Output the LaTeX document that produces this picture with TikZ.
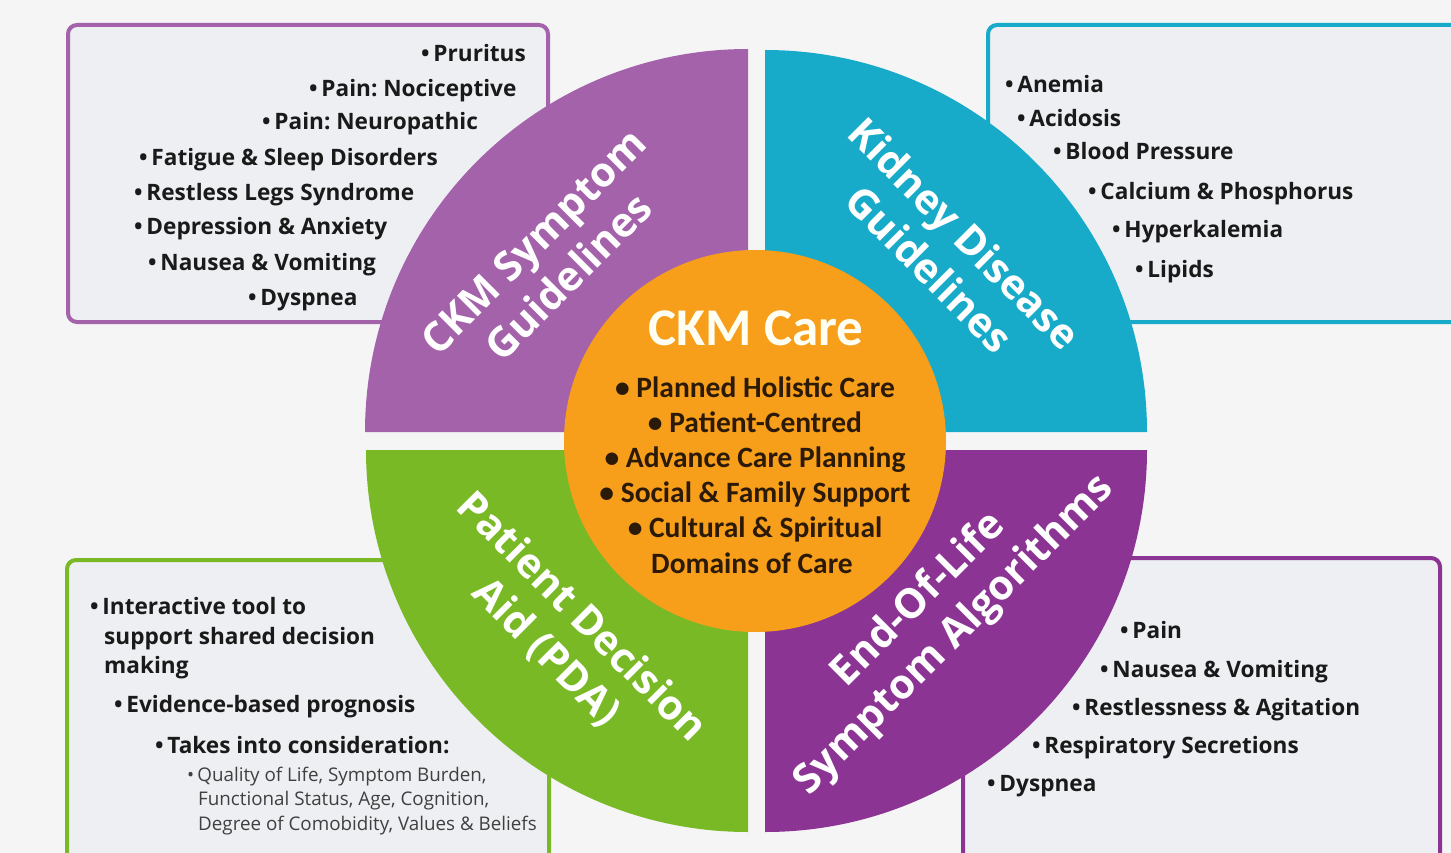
\documentclass[tikz,border=0pt]{standalone}
\usepackage{fontspec}
\setmainfont{Open Sans}
\newfontfamily\labelfont{Open Sans}
\newfontfamily\carfont{Carlito}
\frenchspacing
\definecolor{bgc}{HTML}{F5F5F5}
\definecolor{boxfill}{HTML}{EDEFF2}
\definecolor{lpurple}{HTML}{A462AA}
\definecolor{dpurple}{HTML}{8C3494}
\definecolor{cteal}{HTML}{17ABC9}
\definecolor{cgreen}{HTML}{79B925}
\definecolor{corange}{HTML}{F79E1B}
\definecolor{textc}{HTML}{1A1A1A}
\definecolor{centc}{HTML}{2B1A08}
\begin{document}
\begin{tikzpicture}[x=1pt,y=-1pt,
  infobox/.style={line width=4pt, rounded corners=9pt, fill=boxfill},
  item/.style={anchor=base west, inner sep=0pt, text=textc, font=\frenchspacing\fontsize{22.6}{26}\selectfont\bfseries},
  smallitem/.style={anchor=base west, inner sep=0pt, text=black!75, font=\frenchspacing\fontsize{18.8}{20}\selectfont},
  seclabel/.style={align=center, text=white, inner sep=0pt, font=\labelfont\fontsize{41}{50}\selectfont\bfseries},
  centitem/.style={anchor=base, inner sep=0pt, text=centc, font=\carfont\fontsize{29.5}{32}\selectfont\bfseries}]
\useasboundingbox (0,0) rectangle (1451,853);
\fill[bgc] (0,0) rectangle (1451,853);
% boxes
\draw[infobox, draw=lpurple] (68,25) rectangle (548,322);
\draw[infobox, draw=cteal] (988,25) rectangle (1480,322);
\draw[infobox, draw=cgreen] (67,560) rectangle (549,890);
\draw[infobox, draw=dpurple] (963,558) rectangle (1440,890);
% sectors
\fill[lpurple] (748,432) -- (365,432) arc[start angle=180,end angle=270,radius=383] -- cycle;
\fill[cteal] (765,432) -- (765,50) arc[start angle=270,end angle=360,radius=382] -- cycle;
\fill[cgreen] (748,450) -- (748,832) arc[start angle=90,end angle=180,radius=382] -- cycle;
\fill[dpurple] (765,450) -- (1147,450) arc[start angle=0,end angle=90,radius=382] -- cycle;
% centre
\fill[corange] (755,441) circle[radius=191];
% sector labels
\node[seclabel, rotate=45] (s1) at (551,259) {CKM Symptom\\Guidelines};
\node[seclabel, rotate=-45] (s2) at (947,251) {Kidney Disease\\Guidelines};
\node[seclabel, rotate=-45] (s3) at (564,635) {Patient Decision\\Aid (PDA)};
\node[seclabel, rotate=45] (s4) at (937,618) {End-Of-Life\\Symptom Algorithms};
% centre texts
\node[anchor=base, inner sep=0pt, text=white!95!yellow, font=\carfont\fontsize{53}{56}\selectfont\bfseries] (ct) at (756,345) {CKM Care};
\node[centitem] (c1) at (755,397) {• Planned Holistic Care};
\node[centitem] (c2) at (755,432) {• Patient-Centred};
\node[centitem] (c3) at (755,467) {• Advance Care Planning};
\node[centitem] (c4) at (755,502) {• Social \& Family Support};
\node[centitem] (c5) at (755,537) {• Cultural \& Spiritual};
\node[centitem] (c6) at (752,573) {Domains of Care};
% top-left items
\node[item] (a1) at (421,62) {•\,Pruritus};
\node[item] (a2) at (309,97) {•\,Pain: Nociceptive};
\node[item] (a3) at (262,130) {•\,Pain: Neuropathic};
\node[item] (a4) at (139,166) {•\,Fatigue \& Sleep Disorders};
\node[item] (a5) at (134,201) {•\,Restless Legs Syndrome};
\node[item] (a6) at (134,235) {•\,Depression \& Anxiety};
\node[item] (a7) at (148,270) {•\,Nausea \& Vomiting};
\node[item] (a8) at (248,305) {•\,Dyspnea};
% top-right items
\node[item] (b1) at (1005,93) {•\,Anemia};
\node[item] (b2) at (1017,127) {•\,Acidosis};
\node[item] (b3) at (1053,160) {•\,Blood Pressure};
\node[item] (b4) at (1088,200) {•\,Calcium \& Phosphorus};
\node[item] (b5) at (1112,237) {•\,Hyperkalemia};
\node[item] (b6) at (1135,277) {•\,Lipids};
% bottom-left items
\node[item] (d1) at (90,614) {•\,Interactive tool to};
\node[item] (d2) at (104,644) {support shared decision};
\node[item] (d3) at (104,673) {making};
\node[item] (d4) at (114,712) {•\,Evidence-based prognosis};
\node[item] (d5) at (155,753) {•\,Takes into consideration:};
\node[smallitem] (d6) at (187,781) {•\,Quality of Life, Symptom Burden,};
\node[smallitem] (d7) at (198,805) {Functional Status, Age, Cognition,};
\node[smallitem] (d8) at (198,830) {Degree of Comobidity, Values \& Beliefs};
% bottom-right items
\node[item] (e1) at (1120,638) {•\,Pain};
\node[item] (e2) at (1100,677) {•\,Nausea \& Vomiting};
\node[item] (e3) at (1072,715) {•\,Restlessness \& Agitation};
\node[item] (e4) at (1032,753) {•\,Respiratory Secretions};
\node[item] (e5) at (987,791) {•\,Dyspnea};
\end{tikzpicture}
\end{document}
